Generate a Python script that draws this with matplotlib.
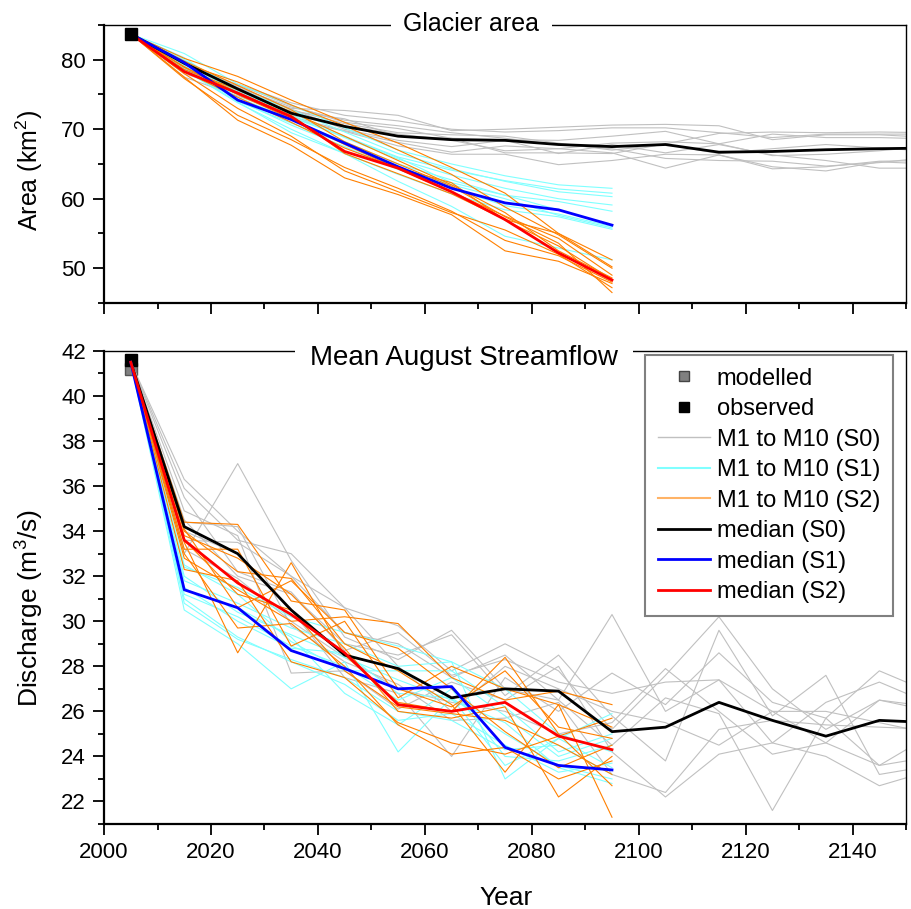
import numpy as np
import matplotlib
matplotlib.use('Agg')
import matplotlib.pyplot as plt
from matplotlib.lines import Line2D
from matplotlib.ticker import MultipleLocator

plt.rcParams['font.family'] = ['Liberation Sans', 'DejaVu Sans']
plt.rcParams['mathtext.default'] = 'regular'

# decades used by the simulations (S1/S2 stop in 2095, S0 keeps going)
years_s0 = [2005, 2015, 2025, 2035, 2045, 2055, 2065, 2075, 2085, 2095,
            2105, 2115, 2125, 2135, 2145, 2155]
years_s12 = [2005, 2015, 2025, 2035, 2045, 2055, 2065, 2075, 2085, 2095]

obs_year = 2005
area_obs = 83.7
flow_obs = 41.6
flow_mod = 41.2

# ---- glacier area (km2) ----
area_med_s0 = [83.7, 79.5, 75.8, 72.3, 70.4, 69.0, 68.5, 68.4, 67.8, 67.5,
               67.8, 66.7, 66.8, 67.05, 67.2, 67.3]
area_med_s1 = [83.7, 79.6, 74.2, 71.4, 68.0, 64.6, 61.5, 59.4, 58.4, 56.2]
area_med_s2 = [83.7, 78.3, 75.2, 71.8, 66.8, 64.4, 61.0, 57.0, 52.2, 48.3]

area_s0 = [
    [83.7, 79.0, 75.5, 73.0, 72.7, 72.0, 69.8, 70.0, 70.3, 70.6, 70.7, 70.5, 68.5, 69.2, 69.2, 68.8],
    [83.7, 78.2, 76.5, 73.8, 72.0, 71.2, 70.0, 69.6, 69.8, 70.2, 70.2, 69.5, 68.8, 69.3, 69.3, 69.3],
    [83.7, 78.8, 75.2, 72.6, 71.5, 69.0, 68.7, 68.5, 68.4, 69.0, 69.7, 67.9, 69.3, 68.8, 68.8, 68.6],
    [83.7, 79.6, 75.9, 72.8, 70.8, 69.5, 69.2, 69.0, 68.0, 67.0, 67.8, 66.5, 67.2, 67.8, 67.3, 66.8],
    [83.7, 77.5, 74.8, 72.0, 70.5, 69.3, 68.4, 66.9, 67.2, 68.0, 68.2, 67.9, 66.2, 66.4, 66.9, 67.6],
    [83.7, 79.2, 76.2, 72.9, 70.0, 68.4, 67.5, 68.4, 66.5, 67.8, 66.6, 67.8, 66.3, 65.5, 64.4, 64.4],
    [83.7, 78.5, 75.0, 71.8, 69.8, 68.1, 66.7, 67.6, 67.2, 66.6, 64.4, 66.3, 64.6, 64.0, 65.3, 65.0],
    [83.7, 79.3, 76.4, 73.4, 71.0, 70.1, 68.7, 66.6, 66.6, 66.5, 67.9, 69.4, 69.6, 69.5, 69.6, 69.5],
    [83.7, 78.0, 75.5, 71.5, 69.7, 67.6, 66.4, 66.4, 64.9, 65.5, 66.4, 66.3, 64.3, 64.6, 65.4, 65.5],
    [83.7, 79.8, 76.0, 73.2, 71.3, 70.5, 69.5, 68.7, 67.8, 67.2, 65.8, 65.5, 65.4, 64.7, 65.2, 66.0],
]
area_s1 = [
    [83.7, 80.9, 76.5, 73.5, 70.2, 67.0, 65.0, 63.3, 62.0, 61.5],
    [83.7, 80.0, 75.8, 72.8, 69.6, 66.5, 64.3, 62.5, 61.0, 60.3],
    [83.7, 79.5, 75.3, 72.0, 68.8, 65.7, 63.4, 61.5, 60.0, 59.1],
    [83.7, 79.2, 74.6, 71.4, 68.2, 65.0, 62.7, 60.5, 59.6, 58.2],
    [83.7, 78.8, 74.2, 70.6, 67.5, 64.2, 61.5, 59.0, 57.8, 56.0],
    [83.7, 79.6, 74.0, 70.9, 67.9, 64.6, 62.0, 60.0, 57.6, 55.8],
    [83.7, 78.5, 73.8, 70.0, 66.5, 63.5, 60.7, 58.4, 57.4, 55.6],
    [83.7, 80.3, 75.0, 71.7, 68.9, 65.9, 62.3, 60.5, 58.4, 56.2],
    [83.7, 78.7, 73.9, 69.5, 66.5, 62.5, 58.9, 54.6, 52.9, 51.2],
    [83.7, 79.9, 75.4, 72.3, 69.0, 66.0, 64.1, 62.6, 61.4, 60.8],
]
area_s2 = [
    [83.7, 80.2, 77.6, 74.2, 71.0, 68.0, 64.5, 60.8, 55.0, 51.2],
    [83.7, 79.4, 76.8, 73.5, 70.5, 67.0, 63.5, 58.8, 54.8, 50.0],
    [83.7, 78.6, 75.7, 72.5, 69.0, 65.5, 62.0, 58.0, 52.5, 48.6],
    [83.7, 77.3, 72.0, 68.5, 64.5, 61.5, 58.2, 54.0, 51.8, 48.0],
    [83.7, 77.5, 71.3, 67.7, 63.0, 60.6, 57.7, 52.5, 51.0, 47.8],
    [83.7, 78.0, 73.0, 69.0, 64.0, 61.0, 58.0, 55.5, 52.0, 47.2],
    [83.7, 79.0, 75.0, 71.5, 67.8, 64.3, 61.0, 57.5, 54.3, 49.0],
    [83.7, 78.3, 74.6, 71.0, 67.3, 64.4, 62.3, 56.9, 53.2, 48.4],
    [83.7, 79.8, 76.3, 72.8, 68.2, 65.0, 61.8, 57.4, 53.6, 46.5],
    [83.7, 78.9, 75.3, 72.0, 66.5, 63.6, 60.7, 57.0, 55.0, 50.2],
]

# ---- mean August streamflow (m3/s) ----
flow_med_s0 = [41.5, 34.2, 33.0, 30.5, 28.5, 27.9, 26.6, 27.0, 26.9, 25.1,
               25.3, 26.4, 25.6, 24.9, 25.6, 25.5]
flow_med_s1 = [41.5, 31.4, 30.6, 28.7, 27.9, 27.0, 27.1, 24.4, 23.6, 23.4]
flow_med_s2 = [41.5, 33.6, 31.7, 30.3, 28.6, 26.3, 26.0, 26.4, 24.9, 24.3]

flow_s0 = [
    [41.5, 36.3, 34.0, 32.0, 29.5, 29.0, 27.5, 28.5, 26.5, 30.3, 26.0, 27.4, 24.6, 26.4, 27.3, 26.3],
    [41.5, 35.9, 33.6, 33.0, 30.6, 29.8, 27.8, 29.0, 27.8, 25.2, 27.6, 30.2, 27.0, 25.2, 26.5, 26.0],
    [41.5, 33.0, 37.0, 32.7, 29.3, 28.3, 29.6, 27.0, 26.5, 24.5, 26.6, 25.9, 21.6, 25.7, 23.6, 25.0],
    [41.5, 34.5, 32.0, 31.2, 29.0, 28.5, 29.4, 26.7, 28.5, 25.8, 23.8, 29.6, 25.8, 27.6, 23.2, 23.6],
    [41.5, 33.6, 33.5, 32.0, 30.6, 28.0, 26.0, 28.0, 27.0, 26.0, 25.5, 24.5, 26.0, 24.6, 26.5, 26.2],
    [41.5, 34.9, 33.8, 27.7, 27.8, 26.1, 27.3, 26.5, 28.0, 24.2, 22.2, 24.1, 24.6, 24.0, 22.7, 23.4],
    [41.5, 35.5, 32.2, 31.3, 28.7, 29.5, 27.6, 28.3, 27.3, 26.8, 27.3, 27.4, 26.0, 26.0, 25.5, 25.0],
    [41.5, 34.0, 33.0, 30.5, 27.5, 26.8, 24.0, 27.5, 26.0, 27.7, 26.3, 28.6, 26.4, 25.7, 27.8, 26.8],
    [41.5, 33.2, 31.9, 30.0, 28.4, 27.0, 26.4, 26.0, 25.0, 25.5, 27.9, 26.0, 24.1, 24.6, 23.6, 24.0],
    [41.5, 34.4, 34.2, 29.8, 28.2, 27.2, 25.6, 25.7, 26.4, 23.2, 22.4, 25.2, 25.6, 25.4, 25.3, 25.2],
]
flow_s1 = [
    [41.5, 32.4, 31.5, 30.2, 29.5, 28.9, 28.2, 27.0, 25.0, 24.2],
    [41.5, 31.0, 29.3, 28.2, 27.2, 25.6, 25.9, 24.5, 23.3, 23.7],
    [41.5, 30.5, 29.0, 27.0, 28.2, 24.2, 26.6, 25.0, 23.6, 23.0],
    [41.5, 31.8, 30.8, 29.7, 29.0, 28.0, 28.2, 23.0, 24.8, 25.9],
    [41.5, 32.0, 30.4, 29.4, 28.4, 27.4, 26.5, 25.5, 23.5, 22.8],
    [41.5, 31.2, 30.2, 28.9, 28.0, 26.5, 27.5, 25.8, 24.0, 24.8],
    [41.5, 30.8, 29.2, 28.3, 27.5, 26.0, 25.6, 24.3, 24.5, 23.2],
    [41.5, 32.5, 31.2, 29.1, 27.8, 27.8, 27.8, 26.2, 24.2, 25.0],
    [41.5, 31.5, 30.0, 28.8, 28.6, 26.8, 26.6, 23.6, 24.8, 23.5],
    [41.5, 31.4, 30.6, 29.3, 26.8, 25.4, 27.0, 24.0, 23.8, 24.5],
]
flow_s2 = [
    [41.5, 34.4, 34.3, 30.9, 30.5, 27.0, 26.2, 27.8, 25.3, 24.8],
    [41.5, 33.5, 28.6, 32.6, 28.5, 26.4, 26.0, 28.4, 25.0, 22.7],
    [41.5, 32.8, 31.4, 30.0, 30.2, 29.9, 27.5, 26.5, 26.9, 26.3],
    [41.5, 33.0, 29.7, 29.9, 28.0, 25.4, 24.1, 24.4, 23.0, 23.8],
    [41.5, 34.0, 32.2, 31.9, 29.0, 27.8, 26.3, 23.3, 26.3, 21.3],
    [41.5, 33.8, 32.8, 31.2, 28.8, 26.0, 25.7, 26.2, 22.2, 24.0],
    [41.5, 32.3, 31.8, 28.2, 27.5, 25.5, 24.6, 24.1, 24.9, 25.7],
    [41.5, 34.1, 30.6, 31.8, 29.5, 28.8, 27.0, 25.1, 23.5, 24.5],
    [41.5, 33.2, 33.2, 28.9, 30.0, 26.6, 28.0, 27.0, 26.3, 25.3],
    [41.5, 33.6, 31.2, 30.5, 27.8, 26.2, 25.9, 25.6, 24.5, 23.2],
]

c_s0, c_s1, c_s2 = '#c0c0c0', '#80ffff', '#ff8000'


def style_axes(ax):
    ax.set_xlim(2000, 2150)
    ax.xaxis.set_major_locator(MultipleLocator(20))
    ax.xaxis.set_minor_locator(MultipleLocator(10))
    ax.tick_params(which='both', direction='out', top=False, right=False,
                   width=1.3, labelsize=16, pad=5)
    ax.tick_params(which='major', length=8)
    ax.tick_params(which='minor', length=4)
    for s in ['left', 'bottom']:
        ax.spines[s].set_linewidth(1.6)
    for s in ['top', 'right']:
        ax.spines[s].set_linewidth(1.0)


def draw_runs(ax, runs_s0, runs_s1, runs_s2, med_s0, med_s1, med_s2):
    for r in runs_s0:
        ax.plot(years_s0, r, color=c_s0, lw=0.8, zorder=2)
    for r in runs_s1:
        ax.plot(years_s12, r, color=c_s1, lw=0.8, zorder=2)
    for r in runs_s2:
        ax.plot(years_s12, r, color=c_s2, lw=0.8, zorder=2)
    ax.plot(years_s0, med_s0, color='black', lw=2, zorder=3)
    ax.plot(years_s12, med_s1, color='blue', lw=2, zorder=3)
    ax.plot(years_s12, med_s2, color='red', lw=2, zorder=3)


def panel_title(ax, text, x, dy, size, pad):
    ax.annotate(text, xy=(x, 1), xycoords='axes fraction', xytext=(0, dy),
                textcoords='offset points', ha='center', va='baseline',
                fontsize=size, zorder=4,
                bbox=dict(facecolor='white', edgecolor='none', pad=pad))


fig = plt.figure(figsize=(9.11, 9.09), dpi=100)
ax1 = fig.add_axes([0.1142, 0.6667, 0.8804, 0.3058])
ax2 = fig.add_axes([0.1142, 0.0935, 0.8804, 0.5204])

# top panel
draw_runs(ax1, area_s0, area_s1, area_s2, area_med_s0, area_med_s1, area_med_s2)
ax1.plot([obs_year], [area_obs], 's', color='black', ms=8, zorder=5)
style_axes(ax1)
ax1.set_ylim(45, 85)
ax1.yaxis.set_major_locator(MultipleLocator(10))
ax1.yaxis.set_minor_locator(MultipleLocator(5))
ax1.tick_params(labelbottom=False)
ax1.set_ylabel('Area (km$^2$)', fontsize=18)
ax1.yaxis.set_label_coords(-0.073, 0.475)
panel_title(ax1, 'Glacier area', 0.458, -4.5, 18, 9)

# bottom panel
ax2.plot([obs_year], [flow_mod], 's', color='#808080', mec='#555555', ms=8, zorder=1)
ax2.plot([obs_year], [flow_obs], 's', color='black', ms=8, zorder=1)
draw_runs(ax2, flow_s0, flow_s1, flow_s2, flow_med_s0, flow_med_s1, flow_med_s2)
style_axes(ax2)
ax2.set_ylim(21, 42)
ax2.yaxis.set_major_locator(MultipleLocator(2))
ax2.yaxis.set_minor_locator(MultipleLocator(1))
ax2.set_ylabel('Discharge (m$^3$/s)', fontsize=19)
ax2.yaxis.set_label_coords(-0.072, 0.457)
ax2.set_xlabel('Year', fontsize=19)
ax2.xaxis.set_label_coords(0.501, -0.132)
panel_title(ax2, 'Mean August Streamflow', 0.449, -10, 20, 11)

handles = [
    Line2D([], [], ls='none', marker='s', ms=7, color='#808080', mec='#444444'),
    Line2D([], [], ls='none', marker='s', ms=7, color='black'),
    Line2D([], [], color=c_s0, lw=1),
    Line2D([], [], color=c_s1, lw=1.5),
    Line2D([], [], color='#ffb366', lw=1.5),
    Line2D([], [], color='black', lw=2),
    Line2D([], [], color='blue', lw=2),
    Line2D([], [], color='red', lw=2),
]
labels = ['modelled', 'observed', 'M1 to M10 (S0)', 'M1 to M10 (S1)',
          'M1 to M10 (S2)', 'median (S0)', 'median (S1)', 'median (S2)']
leg = ax2.legend(handles, labels, loc='upper right', bbox_to_anchor=(0.984, 0.992),
                 borderaxespad=0, fontsize=17, frameon=True, fancybox=False,
                 framealpha=1, edgecolor='#808080', borderpad=0.55,
                 labelspacing=0.36, handlelength=2.2, handletextpad=0.3)
leg.get_frame().set_linewidth(1.5)
leg.set_zorder(6)

fig.savefig('out.png', dpi=100)
